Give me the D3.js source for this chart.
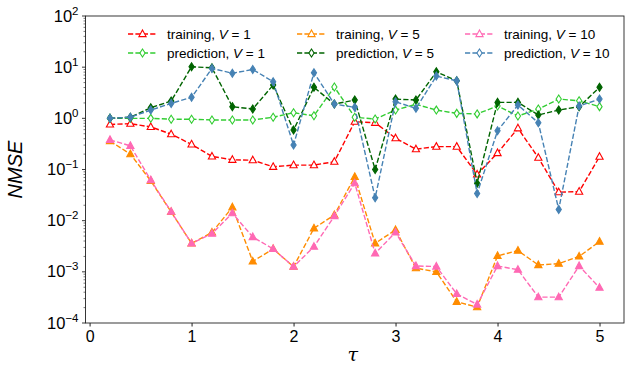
<!DOCTYPE html>
<html><head><meta charset="utf-8">
<script src="https://cdn.jsdelivr.net/npm/d3@7"></script>
<style>
html,body{margin:0;padding:0;background:#fff;}
svg{display:block;font-family:"Liberation Sans",Arial,sans-serif;}
</style></head>
<body><svg id="c" width="635" height="387"></svg>
<script>
const tau = [0.2,0.4,0.6,0.8,1.0,1.2,1.4,1.6,1.8,2.0,2.2,2.4,2.6,2.8,3.0,3.2,3.4,3.6,3.8,4.0,4.2,4.4,4.6,4.8,5.0];
const trainV1 = [0.76,0.785,0.68,0.49,0.31,0.18,0.155,0.152,0.113,0.122,0.122,0.142,0.86,0.82,0.41,0.25,0.28,0.28,0.08,0.21,0.64,0.17,0.036,0.037,0.178];
const predV1 = [1.0,1.0,1.0,0.96,0.96,0.93,0.93,0.93,1.05,1.29,1.12,4.1,1.05,0.97,1.45,1.88,1.45,1.25,1.22,1.74,1.11,1.52,2.38,2.2,1.69];
const trainV5 = [0.36,0.2,0.06,0.0148,0.0036,0.0059,0.0183,0.0016,0.0028,0.00126,0.0071,0.0129,0.072,0.0036,0.0066,0.00118,0.001,0.00026,0.000204,0.00205,0.0026,0.00136,0.00145,0.002,0.0039];
const predV5 = [1.0,1.05,1.61,2.18,10.2,9.7,1.69,1.52,4.47,0.59,4.03,1.9,2.28,0.10,2.38,2.28,8.1,5.4,0.054,2.05,2.05,1.16,1.45,1.69,4.03];
const trainV10 = [0.38,0.29,0.062,0.015,0.0036,0.0056,0.014,0.0048,0.0028,0.00126,0.0031,0.0123,0.054,0.0023,0.0059,0.0013,0.00127,0.00037,0.00023,0.0013,0.0011,0.00032,0.00032,0.0013,0.00049];
const predV10 = [1.0,1.05,1.45,1.96,2.57,9.45,7.6,9.0,5.2,0.30,7.8,1.9,1.64,0.028,2.11,1.57,6.7,5.4,0.034,0.57,1.82,0.82,0.0166,1.74,2.38];
const xTicks = [0,1,2,3,4,5];
const yExps = [-4,-3,-2,-1,0,1,2];
const seriesNames = ["training","prediction","training","prediction","training","prediction"];
const seriesV = [1,1,5,5,10,10];
const seriesColors = ["#ff0000","#32cd32","#ff8c00","#006400","#ff69b4","#4682b4"];
const seriesMarkers = ["tri","dia","tri","dia","tri","dia"];
const seriesData = [trainV1,predV1,trainV5,predV5,trainV10,predV10];

const svg = d3.select("#c");
const L=85.5,R=624,T=16,B=323;
const x = d3.scaleLinear().domain([-0.04,5.24]).range([L,R]);
const y = d3.scaleLog().domain([1e-4,1e2]).range([B,T]);

const triPath = "M0,-4 L3.6,2.6 L-3.6,2.6 Z";
const diaPath = "M0,-4 L2.6,0 L0,4 L-2.6,0 Z";

const g = svg.append("g");
const line = d3.line().x(d=>x(d[0])).y(d=>y(d[1]));
seriesData.forEach((vals,i)=>{
  const pts = tau.map((t,j)=>[t,vals[j]]);
  const s = g.append("g");
  s.append("path").attr("d",line(pts)).attr("fill","none")
    .attr("stroke",seriesColors[i]).attr("stroke-width",1.4).attr("stroke-dasharray","5.2,2.2");
  const hollow = (i<2);
  s.selectAll("path.m").data(pts).enter().append("path").attr("class","m")
    .attr("d",seriesMarkers[i]==="tri"?triPath:diaPath)
    .attr("transform",d=>`translate(${x(d[0])},${y(d[1])})`)
    .attr("fill",hollow?"#fff":seriesColors[i])
    .attr("stroke",seriesColors[i]).attr("stroke-width",1.1);
});

// frame
svg.append("rect").attr("x",L).attr("y",T).attr("width",R-L).attr("height",B-T)
  .attr("fill","none").attr("stroke","#222").attr("stroke-width",0.9);

// x axis
const xa = svg.append("g").attr("transform",`translate(0,${B})`)
  .call(d3.axisBottom(x).tickValues(xTicks).tickFormat(d3.format("d")).tickSize(3.5).tickPadding(4));
xa.select(".domain").remove();
xa.selectAll("text").attr("font-size",16).attr("fill","#000").attr("font-family","Liberation Sans, Arial, sans-serif");
xa.selectAll("line").attr("stroke","#222");

// y axis major ticks
const ya = svg.append("g").attr("transform",`translate(${L},0)`);
yExps.forEach(e=>{
  const yy = y(Math.pow(10,e));
  ya.append("line").attr("x1",0).attr("x2",-3.5).attr("y1",yy).attr("y2",yy).attr("stroke","#222").attr("stroke-width",0.9);
  const t = ya.append("text").attr("x",-7).attr("y",yy+5.5).attr("text-anchor","end").attr("font-size",16.5);
  t.append("tspan").text("10");
  t.append("tspan").attr("dy",-7).attr("font-size",11.5).text(e<0?"\u2212"+(-e):String(e));
});
// minor ticks
for(let e=-4;e<2;e++){
  for(let k=2;k<=9;k++){
    const yy = y(k*Math.pow(10,e));
    ya.append("line").attr("x1",0).attr("x2",-2).attr("y1",yy).attr("y2",yy).attr("stroke","#222").attr("stroke-width",0.6);
  }
}

// labels
svg.append("text").attr("transform",`translate(22,${(T+B)/2}) rotate(-90)`)
  .attr("text-anchor","middle").attr("font-size",20).attr("font-style","italic").text("NMSE");
svg.append("text").attr("x",(L+R)/2-2).attr("y",361).attr("text-anchor","middle")
  .attr("font-size",19).attr("font-style","italic").attr("font-family","DejaVu Serif, serif").text("\u03c4");

// legend
const legX = [128,297,465];
const legY = [34,53];
seriesData.forEach((vals,i)=>{
  const col = Math.floor(i/2), row = i%2;
  const lx = legX[col], ly = legY[row];
  const lg = svg.append("g");
  lg.append("line").attr("x1",lx).attr("x2",lx+29).attr("y1",ly).attr("y2",ly)
    .attr("stroke",seriesColors[i]).attr("stroke-width",1.4).attr("stroke-dasharray","5.2,2.2");
  lg.append("path").attr("d",seriesMarkers[i]==="tri"?triPath:diaPath)
    .attr("transform",`translate(${lx+14.5},${ly})`)
    .attr("fill","#fff").attr("stroke",seriesColors[i]).attr("stroke-width",1.1);
  const t = lg.append("text").attr("x",lx+39).attr("y",ly+5).attr("font-size",13.5);
  t.append("tspan").text(seriesNames[i]+", ");
  t.append("tspan").attr("font-style","italic").text("V");
  t.append("tspan").text(" = "+seriesV[i]);
});
</script></body></html>
